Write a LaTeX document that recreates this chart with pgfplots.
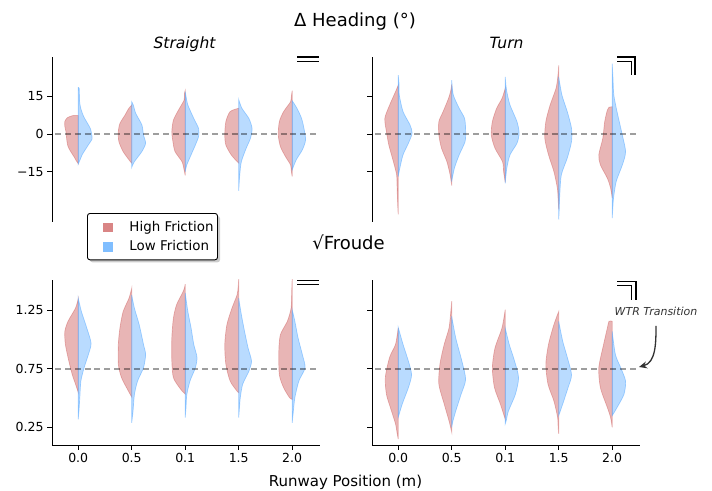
\documentclass[border=0pt]{standalone}
\usepackage{fontspec}
\setmainfont{DejaVu Sans}[ItalicFont={DejaVu Sans Oblique}]
\usepackage{pgfplots}
\pgfplotsset{compat=1.18}
\usetikzlibrary{arrows.meta,shadows}

\definecolor{hf}{RGB}{205,92,92}
\definecolor{lf}{RGB}{80,165,255}
\definecolor{hfleg}{RGB}{217,133,133}
\definecolor{lfleg}{RGB}{128,190,255}

% half violin: position, side (-1 left, 1 right), style, (width,value) pairs
\newcommand{\hv}[4]{\addplot[#3, x filter/.expression={#1+(#2)*x}] coordinates {#4} -- cycle;}
\newcommand{\zero}[1]{\addplot[zl] coordinates {(-0.43,#1) (4.49,#1)};}
% square patch for the legend, drawn with basic pgf so the box style does not leak in
\newcommand{\legpatch}[1]{%
  \pgfsetcornersarced{\pgfpointorigin}%
  \pgfpathrectangle{\pgfpoint{0pt}{-5pt}}{\pgfpoint{38pt}{10pt}}\pgfusepath{use as bounding box}%
  \pgfsetfillcolor{#1}%
  \pgfpathrectangle{\pgfpoint{12pt}{-5.5pt}}{\pgfpoint{9.5pt}{9.5pt}}\pgfusepath{fill}}

\pgfplotsset{
  vred/.style={forget plot, smooth, tension=0.45, mark=none, fill=hf, fill opacity=0.45, draw=hf, draw opacity=0.45, line width=0.7pt},
  vblue/.style={forget plot, smooth, tension=0.45, mark=none, fill=lf, fill opacity=0.4, draw=lf, draw opacity=0.5, line width=0.7pt},
  zl/.style={forget plot, black, opacity=0.38, line width=1.8pt, dash pattern=on 6pt off 3.8pt},
  panel/.style={scale only axis, width=268pt, height=165pt, xmin=-0.49, xmax=4.52,
    axis y line*=left, axis line style={line width=0.9pt}, tick style={line width=0.9pt, black},
    major tick length=4.9pt, tick align=outside,
    ticklabel style={font=\fontsize{12.5}{14}\selectfont}, /pgf/number format/assume math mode=true},
  toppanel/.style={panel, axis x line=none, xtick=\empty, ymin=-35, ymax=30.6, ytick={-15,0,15}},
  botpanel/.style={panel, axis x line*=bottom, ymin=0.1, ymax=1.51, ytick={0.25,0.75,1.25},
    xtick={0,1,2,3,4}, xticklabels={0.0,0.5,0.1,1.5,2.0}},
  legred/.style={legend image code/.code={\legpatch{hfleg}}},
  legblue/.style={legend image code/.code={\legpatch{lfleg}}},
}

\begin{document}
\begin{tikzpicture}
\useasboundingbox (0pt,0pt) rectangle (712pt,490pt);

% Delta heading, straight
\begin{axis}[toppanel, at={(52pt,268pt)}, anchor=south west, yticklabels={−15,0,15},
  legend cell align=left,
  legend style={at={(rel axis cs:0.1306,0.0545)}, anchor=north west, draw=black, line width=0.9pt,
    rounded corners=2.5pt, fill=white, drop shadow={shadow xshift=2.5pt, shadow yshift=-2.5pt, opacity=0.4},
    font=\fontsize{13.4}{15}\selectfont, inner xsep=4pt, inner ysep=7.5pt, row sep=8pt,
    nodes={inner sep=0pt, anchor=west}}]
\addlegendimage{legred}
\addlegendimage{legblue}
\hv{0}{-1}{vred}{(0,7.3)(0.10,7.3)(0.2,6.5)(0.25,5)(0.25,3)(0.23,1)(0.22,-1)(0.21,-3)(0.19,-5)(0.14,-7)(0.08,-9)(0.04,-10.5)(0,-11.8)}
\hv{0}{1}{vblue}{(0,18.5)(0.02,18)(0.025,13)(0.05,10)(0.1,7)(0.18,4)(0.23,2)(0.25,0)(0.26,-2)(0.2,-4)(0.14,-6)(0.08,-8)(0.04,-10)(0,-12)}
\hv{1}{-1}{vred}{(0,11.5)(0.06,10)(0.125,7.5)(0.22,4.2)(0.25,0.9)(0.24,-3)(0.16,-7)(0.05,-10.3)(0,-11.6)}
\hv{1}{1}{vblue}{(0,12.8)(0.03,11.5)(0.075,8.2)(0.19,3.6)(0.22,-0.4)(0.26,-3.7)(0.19,-7)(0.05,-11)(0,-13.3)}
\hv{2}{-1}{vred}{(0,17.2)(0.015,16)(0.02,13.5)(0.125,9.5)(0.22,5.5)(0.25,0.9)(0.23,-3)(0.19,-7)(0.06,-11)(0.02,-14.3)(0,-16.5)}
\hv{2}{1}{vblue}{(0,16.8)(0.015,15)(0.05,11.5)(0.16,6.2)(0.25,2.2)(0.25,-1)(0.19,-4.4)(0.11,-8.3)(0.03,-12.3)(0,-15)}
\hv{3}{-1}{vred}{(0,10.2)(0.16,8.9)(0.24,4.9)(0.26,-0.4)(0.24,-4.4)(0.14,-8.3)(0.05,-10.5)(0,-11.6)}
\hv{3}{1}{vblue}{(0,13.7)(0.06,10.2)(0.19,6.2)(0.25,2.2)(0.22,-1.7)(0.14,-5.7)(0.05,-11)(0.02,-16.2)(0,-22.6)}
\hv{4}{-1}{vred}{(0,17.2)(0.015,15)(0.03,12.8)(0.16,8.9)(0.24,4.9)(0.26,-0.4)(0.22,-5)(0.125,-9)(0.03,-12.3)(0.015,-15)(0,-16.9)}
\hv{4}{1}{vblue}{(0,13.2)(0.09,10.2)(0.175,6.2)(0.22,2.2)(0.25,-2.4)(0.19,-6.3)(0.075,-10.3)(0,-14.3)}
\zero{0}
\legend{High Friction, Low Friction}
\end{axis}

% Delta heading, turn
\begin{axis}[toppanel, at={(372pt,268pt)}, anchor=south west, yticklabels={}]
\hv{0}{-1}{vred}{(0,19.4)(0.05,16.8)(0.16,11.5)(0.25,6.2)(0.22,0.9)(0.175,-4.4)(0.09,-11)(0.03,-16.2)(0.02,-21.5)(0.01,-28)(0,-32)}
\hv{0}{1}{vblue}{(0,23.4)(0.015,20)(0.02,15.5)(0.09,8.9)(0.22,3.6)(0.26,0.3)(0.19,-3.7)(0.09,-8.3)(0.03,-13.6)(0,-16.9)}
\hv{1}{-1}{vred}{(0,19.7)(0.02,17)(0.06,14.1)(0.16,8.9)(0.24,4.9)(0.24,-0.4)(0.19,-5.7)(0.09,-11)(0.03,-16.2)(0,-20.5)}
\hv{1}{1}{vblue}{(0,21.4)(0.03,15.5)(0.14,10.2)(0.24,6.2)(0.26,1.6)(0.25,-3)(0.14,-8.3)(0.05,-13.6)(0,-18.9)}
\hv{2}{-1}{vred}{(0,18.1)(0.06,14.1)(0.16,10.2)(0.24,4.9)(0.26,-0.4)(0.19,-5.7)(0.05,-11)(0.03,-14.9)(0,-19.2)}
\hv{2}{1}{vblue}{(0,22.7)(0.015,19)(0.03,16.8)(0.09,11.5)(0.22,4.9)(0.26,0.3)(0.22,-3.7)(0.09,-8.3)(0.03,-13.6)(0,-19.6)}
\hv{3}{-1}{vred}{(0,27.3)(0.015,23)(0.05,18.1)(0.16,11.5)(0.24,4.9)(0.26,-1.7)(0.19,-8.3)(0.09,-14.9)(0.025,-21.5)(0.01,-26)(0,-30)}
\hv{3}{1}{vblue}{(0,22.7)(0.06,15.5)(0.16,8.9)(0.24,2.2)(0.24,-3)(0.16,-9.6)(0.05,-16.2)(0.02,-24.2)(0.01,-30)(0,-34)}
\hv{4}{-1}{vred}{(0,10.8)(0.06,10.6)(0.09,9.5)(0.14,4.9)(0.175,-1.7)(0.25,-8.3)(0.22,-12.3)(0.09,-17.6)(0.03,-21.5)(0,-25.5)}
\hv{4}{1}{vblue}{(0,28)(0.015,22)(0.03,15.5)(0.09,8.9)(0.175,0.9)(0.25,-7)(0.19,-12.3)(0.075,-18.9)(0.025,-25.5)(0.01,-30)(0,-33.5)}
\zero{0}
\end{axis}

% sqrt Froude, straight
\begin{axis}[botpanel, at={(52pt,45pt)}, anchor=south west, yticklabels={0.25,0.75,1.25}]
\hv{0}{-1}{vred}{(0,1.35)(0.05,1.27)(0.19,1.157)(0.25,1.07)(0.24,0.96)(0.175,0.817)(0.11,0.70)(0.05,0.62)(0,0.55)}
\hv{0}{1}{vblue}{(0,1.355)(0.06,1.24)(0.16,1.10)(0.24,0.97)(0.19,0.873)(0.11,0.76)(0.05,0.647)(0.03,0.505)(0.015,0.4)(0,0.32)}
\hv{1}{-1}{vred}{(0,1.44)(0.05,1.355)(0.16,1.24)(0.22,1.10)(0.25,0.96)(0.25,0.79)(0.19,0.675)(0.06,0.56)(0,0.51)}
\hv{1}{1}{vblue}{(0,1.383)(0.05,1.27)(0.14,1.128)(0.22,0.96)(0.26,0.873)(0.22,0.76)(0.11,0.647)(0.05,0.53)(0.025,0.39)(0,0.29)}
\hv{2}{-1}{vred}{(0,1.474)(0.015,1.44)(0.05,1.40)(0.16,1.30)(0.22,1.185)(0.25,1.015)(0.25,0.817)(0.22,0.675)(0.09,0.58)(0,0.535)}
\hv{2}{1}{vblue}{(0,1.40)(0.05,1.24)(0.11,1.10)(0.16,0.96)(0.22,0.85)(0.19,0.76)(0.09,0.647)(0.03,0.53)(0.015,0.42)(0,0.335)}
\hv{3}{-1}{vred}{(0,1.52)(0.01,1.45)(0.03,1.383)(0.125,1.27)(0.22,1.128)(0.26,0.96)(0.24,0.79)(0.16,0.647)(0.03,0.56)(0,0.547)}
\hv{3}{1}{vblue}{(0,1.355)(0.05,1.213)(0.11,1.07)(0.175,0.93)(0.24,0.817)(0.19,0.73)(0.075,0.62)(0.03,0.505)(0.015,0.42)(0,0.335)}
\hv{4}{-1}{vred}{(0,1.52)(0.01,1.40)(0.02,1.27)(0.09,1.157)(0.22,1.043)(0.25,0.90)(0.24,0.70)(0.16,0.59)(0.05,0.505)(0,0.49)}
\hv{4}{1}{vblue}{(0,1.256)(0.05,1.157)(0.11,1.015)(0.19,0.873)(0.24,0.76)(0.125,0.647)(0.05,0.505)(0.02,0.38)(0,0.29)}
\zero{0.75}
\end{axis}

% sqrt Froude, turn
\begin{axis}[botpanel, at={(372pt,45pt)}, anchor=south west, yticklabels={}]
\hv{0}{-1}{vred}{(0,1.10)(0.05,0.96)(0.16,0.85)(0.24,0.68)(0.22,0.533)(0.125,0.39)(0.05,0.28)(0.02,0.2)(0,0.15)}
\hv{0}{1}{vblue}{(0,1.105)(0.09,0.96)(0.19,0.817)(0.25,0.70)(0.19,0.59)(0.075,0.45)(0,0.335)}
\hv{1}{-1}{vred}{(0,1.33)(0.015,1.25)(0.05,1.10)(0.14,0.96)(0.22,0.79)(0.24,0.62)(0.14,0.45)(0.05,0.306)(0,0.21)}
\hv{1}{1}{vblue}{(0,1.20)(0.075,1.015)(0.19,0.817)(0.26,0.66)(0.175,0.533)(0.075,0.39)(0.02,0.3)(0,0.25)}
\hv{2}{-1}{vred}{(0,1.256)(0.06,1.10)(0.19,0.93)(0.24,0.76)(0.2,0.59)(0.09,0.45)(0,0.32)}
\hv{2}{1}{vblue}{(0,1.10)(0.075,0.96)(0.175,0.817)(0.25,0.675)(0.19,0.533)(0.06,0.39)(0.02,0.31)(0,0.28)}
\hv{3}{-1}{vred}{(0,1.24)(0.09,1.128)(0.19,0.96)(0.24,0.79)(0.2,0.62)(0.09,0.477)(0.02,0.335)(0.01,0.25)(0,0.195)}
\hv{3}{1}{vblue}{(0,1.157)(0.075,0.987)(0.16,0.85)(0.24,0.70)(0.175,0.59)(0.075,0.45)(0,0.35)}
\hv{4}{-1}{vred}{(0,1.157)(0.06,1.157)(0.09,1.10)(0.16,0.96)(0.25,0.76)(0.22,0.59)(0.09,0.42)(0.03,0.335)(0,0.25)}
\hv{4}{1}{vblue}{(0,1.07)(0.06,0.873)(0.16,0.76)(0.25,0.647)(0.22,0.533)(0.09,0.42)(0,0.35)}
\zero{0.75}
\end{axis}

% titles and labels
\node[font=\fontsize{18}{20}\selectfont, anchor=base] at (355pt,463.5pt) {Δ Heading (°)};
\node[font=\fontsize{15.5}{17}\selectfont\itshape, anchor=base] at (184.5pt,441.7pt) {Straight};
\node[font=\fontsize{15.5}{17}\selectfont\itshape, anchor=base] at (506.5pt,441.7pt) {Turn};
\node[font=\fontsize{18}{20}\selectfont, anchor=base] at (348.5pt,240.7pt) {√Froude};
\node[font=\fontsize{15}{17}\selectfont, anchor=base] at (345.5pt,4pt) {Runway Position (m)};

% straight / turn icons
\draw[line width=1.2pt] (297pt,433pt) -- (319pt,433pt) (297pt,428.5pt) -- (319pt,428.5pt);
\draw[line width=1.2pt] (297pt,209.3pt) -- (319pt,209.3pt) (297pt,205.3pt) -- (319pt,205.3pt);
\draw[line width=1.2pt] (617pt,433pt) -- (635pt,433pt) -- (635pt,415pt) (617pt,428.5pt) -- (631.5pt,428.5pt) -- (631.5pt,415pt);
\draw[line width=1.2pt] (617pt,208.7pt) -- (636pt,208.7pt) -- (636pt,190.3pt) (617pt,204.7pt) -- (631.7pt,204.7pt) -- (631.7pt,190.3pt);

% annotation
\node[font=\fontsize{11}{12}\selectfont\itshape, text=black!80, anchor=base] at (656pt,174pt) {WTR Transition};
\draw[line width=1.3pt, black!80, -{Stealth[length=8pt,width=7pt]}] (656pt,164pt) to[out=-90,in=15] (639pt,123pt);
\end{tikzpicture}
\end{document}
